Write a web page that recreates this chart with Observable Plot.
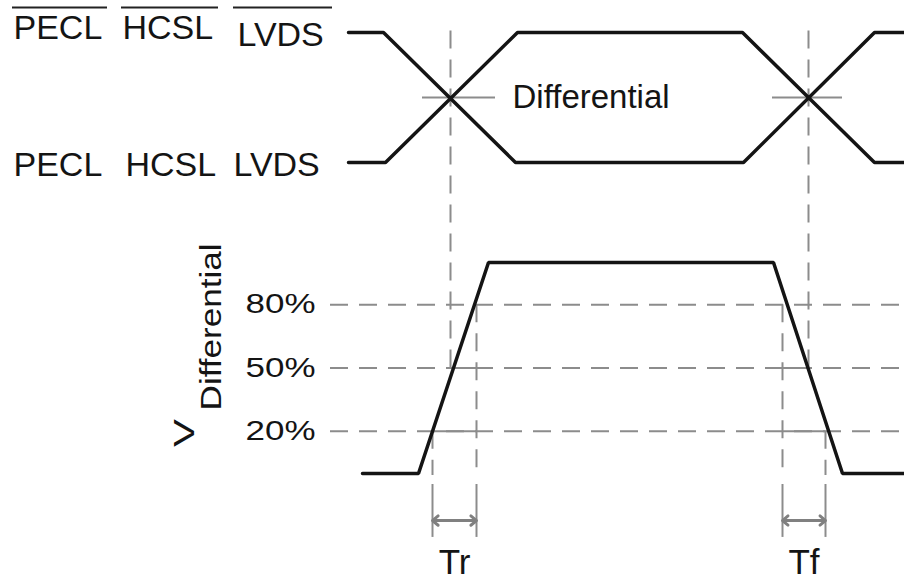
<!DOCTYPE html>
<html><head><meta charset="utf-8">
<script src="https://cdn.jsdelivr.net/npm/d3@7"></script>
<script src="https://cdn.jsdelivr.net/npm/@observablehq/plot@0.6"></script>
<style>
html,body{margin:0;padding:0;background:#fff;}
#chart svg{display:block;background:#fff;}
</style></head><body><div id="chart"></div>
<script>
// ---- data (time in ns, level in % of the differential swing) ----
const TOP_HIGH = 209.0, TOP_LOW = 147.4, TOP_CROSS = 178.2;
const barTimes  = [3.48, 3.83, 5.15, 7.43, 8.74, 9.04];
const barLevels = [TOP_HIGH, TOP_HIGH, TOP_LOW, TOP_LOW, TOP_HIGH, TOP_HIGH];
const trueTimes  = [3.48, 3.85, 5.17, 7.42, 8.74, 9.04];
const trueLevels = [TOP_LOW, TOP_LOW, TOP_HIGH, TOP_HIGH, TOP_LOW, TOP_LOW];
const diffTimes  = [3.62, 4.18, 4.88, 7.73, 8.42, 9.04];
const diffLevels = [0, 0, 100, 100, 0, 0];

const thresholds = [20, 50, 80];
const thresholdLabels = ["20%", "50%", "80%"];
const gridStart = 3.30, gridEnd = 9.04;

const crossTimes = [4.50, 8.08];
const crossMarkFrom = [4.22, 7.72], crossMarkTo = [4.95, 8.42];
const crossTop = 211.0, crossBottom = 50;

const edgeTimes  = [4.32, 4.76, 7.82, 8.25];
const edgeLevels = [20, 80, 80, 20];
const measureFrom = [[4.32, 4.76, 20], [4.50, 4.76, 50], [7.82, 8.25, 20], [7.82, 8.08, 50]];
const extDashEnd = -1, extSolidTop = -5.2, extSolidBottom = -30.3;

const spanNames = ["Tr", "Tf"];
const spanStart = [4.32, 7.82], spanEnd = [4.76, 8.25];
const arrowLevel = -22.3, spanLabelLevel = -47.4;

const topLabels     = ["PECL", "HCSL", "LVDS"];
const topBarX       = [0.13, 1.22, 2.37];
const topBarLevel   = [205.7, 205.7, 202.8];
const topTrueX      = [0.13, 1.25, 2.33];
const topTrueLevel  = 141.2;
const overFrom = [0.12, 1.21, 2.33], overTo = [1.07, 2.18, 3.32], overLevel = 220.9;

const diffText = "Differential", diffTextX = 5.12, diffTextLevel = 173.0;
const vLabel = "V", vLabelX = 1.93, vLabelLevel = 19.2;
const vSub = "Differential", vSubX = 2.20, vSubLevel = 29.9;
const pctLabelX = 3.15;

// ---- build tables ----
const zip = (ts, vs) => ts.map((t, i) => ({t, v: vs[i]}));
const lines = [
  ...zip(barTimes, barLevels).map(d => ({...d, s: "bar"})),
  ...zip(trueTimes, trueLevels).map(d => ({...d, s: "true"})),
  ...zip(diffTimes, diffLevels).map(d => ({...d, s: "diff"}))
];
const gray = "#8c8c8c", ink = "#141414";
const dash = "18,11";

const arrows = [];
spanNames.forEach((n, i) => {
  const m = (spanStart[i] + spanEnd[i]) / 2;
  arrows.push({x1: m, x2: spanStart[i]}, {x1: m, x2: spanEnd[i]});
});

const chart = Plot.plot({
  width: 904, height: 584, margin: 0,
  x: {domain: [0, 9.04], range: [0, 904], axis: null},
  y: {domain: [0, 100], range: [473, 262], axis: null},
  style: {fontFamily: "'Liberation Sans', Arial, sans-serif", background: "#fff"},
  marks: [
    Plot.ruleY(thresholds, {y: d => d, x1: gridStart, x2: gridEnd, stroke: gray, strokeWidth: 2, strokeDasharray: dash}),
    Plot.ruleX(crossTimes, {x: d => d, y1: crossBottom, y2: crossTop, stroke: gray, strokeWidth: 2, strokeDasharray: dash}),
    Plot.ruleY(crossTimes, {y: TOP_CROSS, x1: (d, i) => crossMarkFrom[i], x2: (d, i) => crossMarkTo[i], stroke: gray, strokeWidth: 2}),
    Plot.ruleX(edgeTimes, {x: d => d, y1: (d, i) => edgeLevels[i], y2: extDashEnd, stroke: gray, strokeWidth: 2, strokeDasharray: dash}),
    Plot.ruleX(edgeTimes, {x: d => d, y1: extSolidTop, y2: extSolidBottom, stroke: gray, strokeWidth: 2}),
    Plot.ruleY(measureFrom, {y: d => d[2], x1: d => d[0], x2: d => d[1], stroke: gray, strokeWidth: 2}),
    Plot.arrow(arrows, {x1: "x1", x2: "x2", y1: arrowLevel, y2: arrowLevel, stroke: "#808080", strokeWidth: 3, headLength: 10, headAngle: 80}),
    Plot.line(lines, {x: "t", y: "v", z: "s", stroke: ink, strokeWidth: 3.5, strokeLinejoin: "miter"}),
    Plot.ruleY(topLabels, {y: overLevel, x1: (d, i) => overFrom[i], x2: (d, i) => overTo[i], stroke: "#222", strokeWidth: 2}),
    Plot.text(topLabels, {x: (d, i) => topBarX[i], y: (d, i) => topBarLevel[i], text: d => d, textAnchor: "start", lineAnchor: "bottom", fontSize: 34, fill: ink}),
    Plot.text(topLabels, {x: (d, i) => topTrueX[i], y: topTrueLevel, text: d => d, textAnchor: "start", lineAnchor: "bottom", fontSize: 34, fill: ink}),
    Plot.text([diffText], {x: diffTextX, y: diffTextLevel, text: d => d, textAnchor: "start", lineAnchor: "bottom", fontSize: 33, fill: ink}),
    Plot.text(thresholds, {x: pctLabelX, y: d => d, text: (d, i) => thresholdLabels[i], textAnchor: "end", lineAnchor: "middle", fontSize: 27, fill: ink, ariaDescription: "pct"}),
    Plot.text([vLabel], {x: vLabelX, y: vLabelLevel, text: d => d, rotate: -90, textAnchor: "middle", lineAnchor: "bottom", fontSize: 29, fill: ink, ariaDescription: "vlabel"}),
    Plot.text([vSub], {x: vSubX, y: vSubLevel, text: d => d, rotate: -90, textAnchor: "start", lineAnchor: "bottom", fontSize: 29, fill: ink, ariaDescription: "vsub"}),
    Plot.text(spanNames, {x: (d, i) => (spanStart[i] + spanEnd[i]) / 2, y: spanLabelLevel, text: d => d, textAnchor: "middle", lineAnchor: "bottom", fontSize: 35, fill: ink})
  ]
});

const stretch = {pct: 70, vlabel: 28, vsub: 167};
for (const [k, len] of Object.entries(stretch)) {
  chart.querySelectorAll(`g[aria-description="${k}"] text`).forEach(t => {
    t.setAttribute("textLength", len);
    t.setAttribute("lengthAdjust", "spacingAndGlyphs");
  });
}
document.getElementById("chart").appendChild(chart);
</script></body></html>
